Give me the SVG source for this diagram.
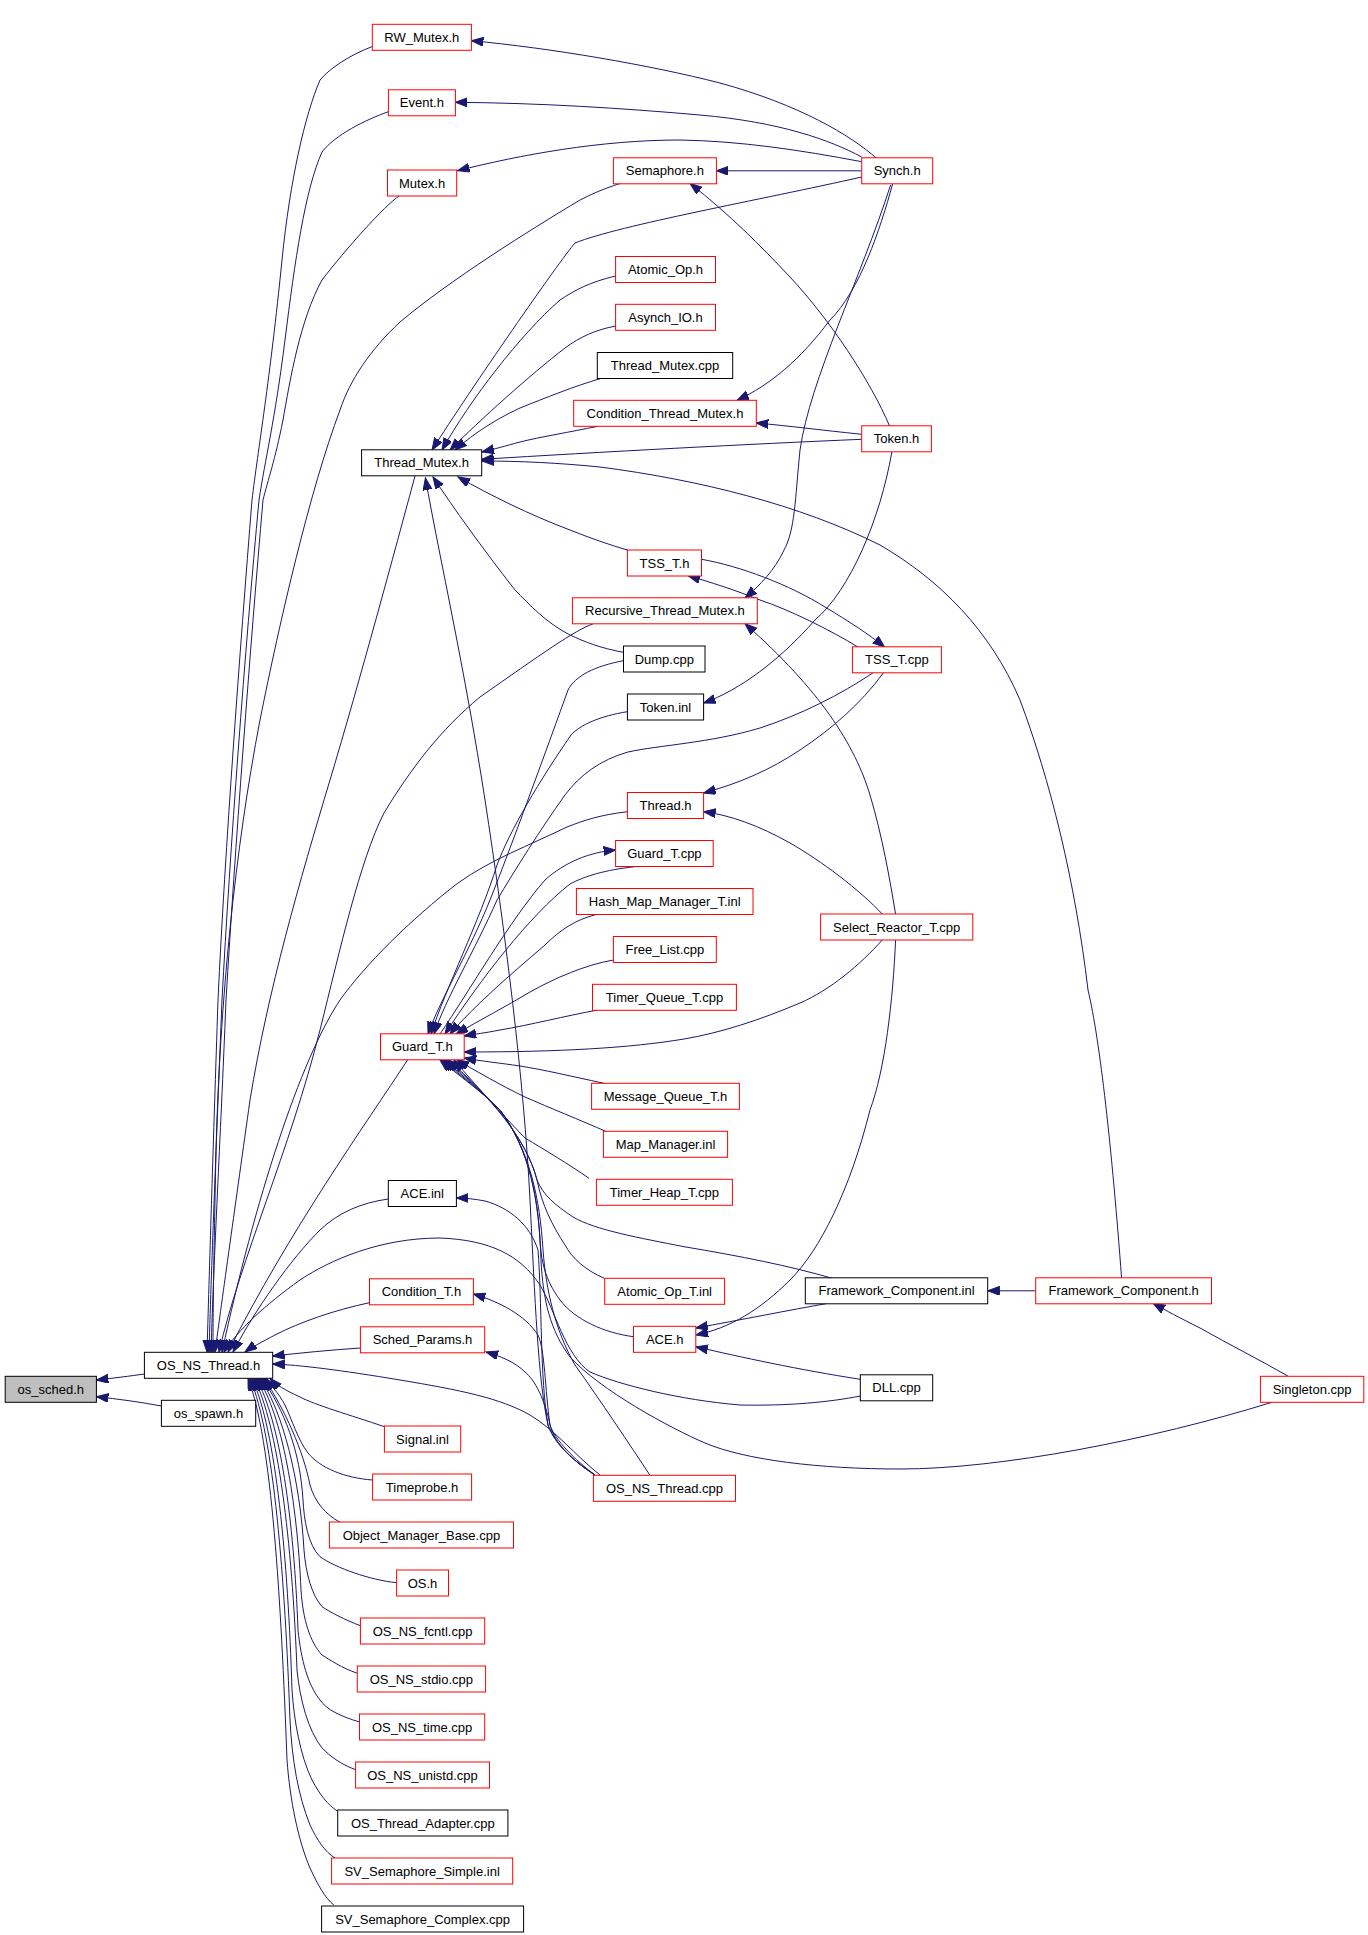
<svg xmlns="http://www.w3.org/2000/svg" width="1368" height="1935" viewBox="0 0 1368 1935">
<style>
rect{fill:#fff;stroke-width:1}
.r{stroke:#ff0000}
.k{stroke:#000}
.g{fill:#bfbfbf;stroke:#000}
text{font-family:"Liberation Sans",Arial,sans-serif;font-size:13px;text-anchor:middle;fill:#000}
#edges path{fill:none;stroke:#191970;stroke-width:1;marker-end:url(#a)}
</style>
<defs>
<marker id="a" markerUnits="userSpaceOnUse" markerWidth="13" markerHeight="10" refX="12" refY="4.5" orient="auto">
<path d="M0,0 L12,4.5 L0,9 z" fill="#191970" stroke="#191970" stroke-width="1"/>
</marker>
</defs>
<rect x="0" y="0" width="1368" height="1935" style="fill:#fff;stroke:none"/>
<g id="edges">
<!-- to os_sched.h -->
<path d="M144.4,1374 C130,1376 115,1378 96.4,1380"/>
<path d="M161.4,1406 C140,1402 118,1399 96.4,1396.7"/>
<!-- top group to OS_NS_Thread.h -->
<path d="M371.9,46.7 C350,55 330,68 320,80 C305,115 290,180 282,260 C270,380 258,450 252,500 C240,650 225,850 218,1000 C213,1150 210,1250 207,1352"/>
<path d="M388.4,111.7 C365,120 335,135 322,152 C305,190 295,260 285,340 C275,420 265,460 259,500 C245,650 230,850 222,1000 C216,1150 212,1250 209,1352"/>
<path d="M399.5,195.7 C385,205 345,250 322,280 C300,320 290,380 283,420 C275,460 268,480 263,500 C250,650 235,850 226,1000 C220,1150 214,1250 211,1352"/>
<path d="M620.5,183.3 C600,190 590,195 580,200 C530,230 450,280 400,322 C370,350 350,380 340,410 C310,490 280,620 260,720 C235,850 220,1000 216,1150 C214,1250 213,1300 213,1352"/>
<path d="M415,476 C395,550 360,680 330,780 C300,880 268,990 250,1100 C236,1200 222,1300 215,1352"/>
<path d="M593.4,623.7 C575,630 540,655 480,697 C440,730 410,770 384,813 C360,860 340,950 320,1030 C290,1150 240,1260 219,1352"/>
<path d="M627.4,811.7 C600,815 585,820 567,827 C530,845 490,860 458,883 C410,920 365,965 340,1000 C300,1060 255,1200 222,1352"/>
<path d="M408,1059.3 C365,1125 290,1230 228,1352"/>
<path d="M388.3,1199 C360,1203 338,1213 320,1230 C290,1260 255,1310 233,1352"/>
<path d="M860.3,1396 C830,1402 790,1406 740,1405 C680,1400 620,1385 590,1372 C565,1355 555,1310 540,1285 C520,1255 490,1240 440,1238 C380,1238 330,1260 300,1280 C265,1305 238,1330 224,1352"/>
<path d="M369.5,1302.7 C335,1310 300,1322 275,1335 C262,1342 252,1347 245,1352"/>
<path d="M360.4,1348 C330,1350 300,1353 272.7,1356"/>
<path d="M600,1475 C575,1455 555,1430 530,1415 C500,1398 460,1390 400,1380 C340,1370 300,1365 272.7,1364"/>
<!-- bottom group to OS_NS_Thread.h -->
<path d="M384.4,1426.7 C350,1415 315,1405 300,1397 C285,1390 276,1385 270,1378.3"/>
<path d="M372.6,1480 C345,1478 320,1468 308,1453 C298,1440 292,1420 285,1405 C278,1392 270,1385 266,1378.3"/>
<path d="M340,1522.3 C325,1514 315,1502 310,1485 C303,1450 285,1410 264,1378.3"/>
<path d="M396.6,1582.7 C370,1580 336,1568 320,1556.7 C308,1545 304,1520 303,1500 C300,1450 284,1410 262,1378.3"/>
<path d="M360.4,1625.7 C345,1620 330,1612 322,1606.7 C312,1595 306,1575 304,1550 C300,1480 283,1412 260,1378.3"/>
<path d="M357.3,1673.3 C342,1668 330,1660 322,1655 C310,1642 303,1620 301,1590 C297,1500 282,1415 258,1378.3"/>
<path d="M359.5,1722 C340,1716 327,1710 320,1700 C308,1685 301,1660 298,1630 C294,1520 280,1420 256,1378.3"/>
<path d="M355.6,1769.7 C340,1764 330,1756 322,1748 C308,1730 300,1700 297,1670 C292,1540 278,1425 254,1378.3"/>
<path d="M337.3,1811 C328,1805 320,1795 312,1780 C300,1755 294,1720 292,1690 C288,1560 276,1430 252,1378.3"/>
<path d="M335,1858 C325,1852 317,1840 310,1825 C298,1795 292,1760 290,1720 C285,1580 274,1435 250,1378.3"/>
<path d="M333.8,1905 C325,1898 318,1885 310,1868 C298,1840 290,1800 287,1760 C281,1600 272,1440 248,1378.3"/>
<!-- Synch.h -->
<path d="M876.6,158.3 C850,135 800,105 720,83 C650,65 550,48 471.4,40.7"/>
<path d="M861.7,157 C830,140 780,122 700,115 C620,108 540,103 455.4,102.3"/>
<path d="M861.7,161.7 C800,150 740,141 680,140 C600,140 520,155 457.6,170.7"/>
<path d="M861.7,170.8 L716.4,170.8"/>
<path d="M861.7,177 C760,200 620,225 575,243 C560,260 470,390 432,450"/>
<path d="M892.8,183.3 C880,230 860,290 830,320 C800,360 770,385 737,400.3"/>
<path d="M890.6,185 C860,280 810,380 800,450 C795,500 795,530 784,550 C775,570 760,585 745,598"/>
<!-- Token.h -->
<path d="M889.7,426.3 C870,380 830,320 790,277 C760,245 730,215 690,183.3"/>
<path d="M861.7,434.3 C820,430 790,426 756.3,423"/>
<path d="M861.7,439.3 C750,444 600,452 481.7,459.3"/>
<path d="M892,451.3 C880,520 850,590 815,620 C780,660 740,690 703.6,703"/>
<!-- into Thread_Mutex.h -->
<path d="M615.6,276 C590,282 575,290 560,300 C520,335 470,400 442,450"/>
<path d="M615.6,326 C595,330 580,337 565,348 C530,375 480,420 450,450"/>
<path d="M600,378.7 C575,386 545,398 520,408 C490,422 470,437 455,450"/>
<path d="M598,426.3 C570,432 540,437 520,442 C505,446 495,449 482,452"/>
<path d="M1121.6,1278.3 C1112,1150 1100,1040 1088,990 C1075,880 1050,780 1020,700 C990,630 940,580 880,545 C800,505 700,480 600,467 C560,463 520,461 482,461"/>
<path d="M628.3,550.3 C610,545 590,538 570,530 C530,515 490,495 458,477"/>
<path d="M623.5,652.3 C600,648 585,642 570,635 C545,622 530,605 515,590 C480,545 455,510 433,477"/>
<path d="M595,1475 C575,1462 555,1445 548,1425 C538,1380 535,1300 530,1200 C524,1080 505,930 485,800 C465,670 440,560 425.4,478"/>
<!-- TSS -->
<path d="M701.5,559.3 C740,566 790,585 825,607 C850,622 870,635 884.7,647.3"/>
<path d="M858.5,647.3 C830,630 790,610 760,600 C735,590 710,582 688,575.7"/>
<path d="M883.8,672.3 C860,705 830,730 800,750 C770,770 740,783 703.6,793"/>
<!-- Select_Reactor_T.cpp -->
<path d="M882.5,914.3 C860,890 820,860 790,843 C760,826 730,815 703.6,811.7"/>
<path d="M895.6,914.3 C890,880 882,835 870,795 C855,745 820,690 745,623.7"/>
<path d="M895.6,939.7 C893,1000 885,1070 870,1110 C850,1190 820,1250 790,1280 C760,1310 730,1328 696,1335"/>
<path d="M882.5,939.7 C860,965 830,990 800,1003 C760,1020 720,1033 684,1039 C630,1048 560,1052 464.2,1052"/>
<!-- into ACE.h / FC -->
<path d="M828,1303.3 C790,1310 740,1320 695.8,1328"/>
<path d="M860.3,1379.3 C800,1370 740,1357 695.8,1346.7"/>
<path d="M1035.7,1290.8 L987.7,1290.8"/>
<path d="M1288.3,1376.3 C1260,1360 1230,1345 1200,1328 C1180,1318 1165,1310 1153,1303.3"/>
<!-- into Guard_T.h from above -->
<path d="M623.5,660.7 C595,666 575,676 568,690 C550,740 510,850 490,900 C470,950 440,1000 428,1034"/>
<path d="M627.4,711.7 C600,716 580,725 571,735 C540,780 510,830 497,865 C480,920 445,990 431,1034"/>
<path d="M873.8,672.3 C840,695 800,715 760,728 C710,743 660,745 628,752 C600,760 580,775 565,795 C540,830 515,870 497,900 C475,950 445,1000 434,1034"/>
<path d="M440,1034 C470,990 510,920 545,880 C565,862 590,852 615.6,850"/>
<path d="M634.8,866.7 C605,870 585,876 570,884 C530,915 480,980 445,1034"/>
<path d="M595.5,914.7 C575,920 560,930 545,945 C510,975 475,1005 450,1034"/>
<path d="M613.4,960 C585,965 555,978 530,992 C505,1007 480,1020 456,1034"/>
<path d="M597.7,1010 C565,1016 530,1025 500,1030 C485,1033 475,1034 464.2,1036"/>
<!-- into Guard_T.h from below -->
<path d="M604,1083.3 C570,1076 545,1070 520,1066 C500,1063 480,1061 464.2,1058"/>
<path d="M606.5,1131.7 C580,1120 550,1108 525,1097 C500,1085 478,1072 457,1060"/>
<path d="M589,1178.3 C570,1165 545,1150 525,1138 C500,1112 478,1088 454,1060"/>
<path d="M832.3,1278.3 C790,1266 740,1256 684,1246.7 C640,1238 595,1230 573,1217 C555,1205 543,1195 537,1180 C527,1140 490,1095 448,1060"/>
<path d="M604.3,1278.3 C585,1270 572,1258 565,1245 C552,1225 542,1205 537,1180 C527,1140 490,1095 446,1060"/>
<path d="M633.5,1336.7 C605,1333 575,1320 560,1300 C545,1280 541,1260 540,1240 C538,1200 530,1150 500,1110 C480,1090 462,1075 444,1060"/>
<path d="M1272,1402.3 C1150,1440 1000,1469 900,1469 C820,1469 745,1460 705,1443 C670,1428 600,1390 570,1357 C550,1330 543,1300 541,1260 C539,1200 530,1150 500,1110 C480,1090 460,1075 442,1060"/>
<path d="M650,1475.3 C630,1445 600,1400 575,1365 C555,1330 546,1290 543,1250 C540,1200 530,1150 500,1110 C480,1090 458,1075 440,1060"/>
<!-- OS_NS_Thread.cpp to ACE.inl, Condition_T.h, Sched_Params.h -->
<path d="M595,1475 C575,1462 555,1445 548,1425 C540,1380 542,1300 538,1250 C530,1225 510,1208 485,1201 C475,1199 465,1198 456.4,1198"/>
<path d="M595,1475 C575,1462 555,1445 550,1425 C545,1390 545,1350 538,1335 C525,1315 500,1302 473.4,1294"/>
<path d="M595,1475 C575,1460 555,1440 550,1425 C545,1400 535,1380 525,1372 C515,1362 500,1356 486,1352"/>
</g>
<g id="n_os_sched"><rect class="g" x="5.2" y="1376.3" width="91.2" height="26"/><text x="50.8" y="1393.8">os_sched.h</text></g>
<g id="n_os_spawn"><rect class="k" x="161.4" y="1400.3" width="94.3" height="26"/><text x="208.5" y="1417.8">os_spawn.h</text></g>
<g id="n_OS_NS_Thread_h"><rect class="k" x="144.4" y="1352.3" width="128.3" height="26"/><text x="208.5" y="1369.8">OS_NS_Thread.h</text></g>
<g id="n_RW_Mutex"><rect class="r" x="372.3" y="24.3" width="99.1" height="26"/><text x="421.8" y="41.8">RW_Mutex.h</text></g>
<g id="n_Event"><rect class="r" x="388.4" y="89.8" width="67" height="26"/><text x="421.9" y="107.3">Event.h</text></g>
<g id="n_Mutex"><rect class="r" x="387.5" y="170" width="69.2" height="26"/><text x="422.1" y="187.5">Mutex.h</text></g>
<g id="n_Thread_Mutex_h"><rect class="k" x="361.6" y="449.8" width="120.1" height="26"/><text x="421.6" y="467.3">Thread_Mutex.h</text></g>
<g id="n_Guard_T_h"><rect class="r" x="380.5" y="1033.8" width="83.7" height="26"/><text x="422.3" y="1051.3">Guard_T.h</text></g>
<g id="n_ACE_inl"><rect class="k" x="388.3" y="1180.5" width="68.1" height="26"/><text x="422.3" y="1198">ACE.inl</text></g>
<g id="n_Condition_T"><rect class="r" x="369.5" y="1278.8" width="103.9" height="26"/><text x="421.4" y="1296.3">Condition_T.h</text></g>
<g id="n_Sched_Params"><rect class="r" x="360.4" y="1326.8" width="124.3" height="26"/><text x="422.5" y="1344.3">Sched_Params.h</text></g>
<g id="n_Signal"><rect class="r" x="384.4" y="1426" width="76.3" height="26"/><text x="422.5" y="1443.5">Signal.inl</text></g>
<g id="n_Timeprobe"><rect class="r" x="372.6" y="1474" width="99" height="26"/><text x="422.1" y="1491.5">Timeprobe.h</text></g>
<g id="n_Object_Manager_Base"><rect class="r" x="329.4" y="1522" width="184.1" height="26"/><text x="421.4" y="1539.5">Object_Manager_Base.cpp</text></g>
<g id="n_OS_h"><rect class="r" x="396.6" y="1570" width="51.9" height="26"/><text x="422.5" y="1587.5">OS.h</text></g>
<g id="n_OS_NS_fcntl"><rect class="r" x="360.4" y="1618" width="124.3" height="26"/><text x="422.5" y="1635.5">OS_NS_fcntl.cpp</text></g>
<g id="n_OS_NS_stdio"><rect class="r" x="357.3" y="1666" width="128.3" height="26"/><text x="421.4" y="1683.5">OS_NS_stdio.cpp</text></g>
<g id="n_OS_NS_time"><rect class="r" x="359.5" y="1714" width="125.2" height="26"/><text x="422.1" y="1731.5">OS_NS_time.cpp</text></g>
<g id="n_OS_NS_unistd"><rect class="r" x="355.6" y="1762" width="133.9" height="26"/><text x="422.5" y="1779.5">OS_NS_unistd.cpp</text></g>
<g id="n_OS_Thread_Adapter"><rect class="k" x="337.7" y="1810" width="170.2" height="26"/><text x="422.8" y="1827.5">OS_Thread_Adapter.cpp</text></g>
<g id="n_SV_Semaphore_Simple"><rect class="r" x="331.6" y="1858" width="181.1" height="26"/><text x="422.1" y="1875.5">SV_Semaphore_Simple.inl</text></g>
<g id="n_SV_Semaphore_Complex"><rect class="k" x="321.6" y="1906" width="202" height="26"/><text x="422.6" y="1923.5">SV_Semaphore_Complex.cpp</text></g>
<g id="n_Semaphore"><rect class="r" x="613.4" y="157.8" width="103" height="26"/><text x="664.9" y="175.3">Semaphore.h</text></g>
<g id="n_Atomic_Op_h"><rect class="r" x="615.6" y="256.5" width="99.9" height="26"/><text x="665.5" y="274">Atomic_Op.h</text></g>
<g id="n_Asynch_IO"><rect class="r" x="615.6" y="304.3" width="99.9" height="26"/><text x="665.5" y="321.8">Asynch_IO.h</text></g>
<g id="n_Thread_Mutex_cpp"><rect class="k" x="597.3" y="352.5" width="135.4" height="26"/><text x="665" y="370">Thread_Mutex.cpp</text></g>
<g id="n_Condition_Thread_Mutex"><rect class="r" x="573.7" y="400.3" width="182.6" height="26"/><text x="665" y="417.8">Condition_Thread_Mutex.h</text></g>
<g id="n_TSS_T_h"><rect class="r" x="627.4" y="550" width="74.1" height="26"/><text x="664.5" y="567.5">TSS_T.h</text></g>
<g id="n_Recursive_Thread_Mutex"><rect class="r" x="572.4" y="597.8" width="184.9" height="26"/><text x="664.9" y="615.3">Recursive_Thread_Mutex.h</text></g>
<g id="n_Dump"><rect class="k" x="623.5" y="646" width="81.5" height="26"/><text x="664.3" y="663.5">Dump.cpp</text></g>
<g id="n_Token_inl"><rect class="k" x="627.4" y="694" width="76.2" height="26"/><text x="665.5" y="711.5">Token.inl</text></g>
<g id="n_Thread_h"><rect class="r" x="627.4" y="792.5" width="76.2" height="26"/><text x="665.5" y="810">Thread.h</text></g>
<g id="n_Guard_T_cpp"><rect class="r" x="615.6" y="840.5" width="97.6" height="26"/><text x="664.4" y="858">Guard_T.cpp</text></g>
<g id="n_Hash_Map_Manager_T"><rect class="r" x="576.4" y="888.5" width="176.6" height="26"/><text x="664.7" y="906">Hash_Map_Manager_T.inl</text></g>
<g id="n_Free_List"><rect class="r" x="613.4" y="936.5" width="102.9" height="26"/><text x="664.9" y="954">Free_List.cpp</text></g>
<g id="n_Timer_Queue_T"><rect class="r" x="592.5" y="984.3" width="143.9" height="26"/><text x="664.5" y="1001.8">Timer_Queue_T.cpp</text></g>
<g id="n_Message_Queue_T"><rect class="r" x="591.6" y="1083.3" width="147.8" height="26"/><text x="665.5" y="1100.8">Message_Queue_T.h</text></g>
<g id="n_Map_Manager"><rect class="r" x="603.4" y="1131.3" width="124.2" height="26"/><text x="665.5" y="1148.8">Map_Manager.inl</text></g>
<g id="n_Timer_Heap_T"><rect class="r" x="596.4" y="1179.3" width="136" height="26"/><text x="664.4" y="1196.8">Timer_Heap_T.cpp</text></g>
<g id="n_Atomic_Op_T"><rect class="r" x="604.7" y="1278.3" width="119.9" height="26"/><text x="664.7" y="1295.8">Atomic_Op_T.inl</text></g>
<g id="n_ACE_h"><rect class="r" x="633.5" y="1326.3" width="62.3" height="26"/><text x="664.7" y="1343.8">ACE.h</text></g>
<g id="n_OS_NS_Thread_cpp"><rect class="r" x="593.4" y="1475.3" width="142.1" height="26"/><text x="664.5" y="1492.8">OS_NS_Thread.cpp</text></g>
<g id="n_Synch"><rect class="r" x="861.7" y="157.8" width="71" height="26"/><text x="897.2" y="175.3">Synch.h</text></g>
<g id="n_Token_h"><rect class="r" x="861.7" y="425.8" width="69.7" height="26"/><text x="896.6" y="443.3">Token.h</text></g>
<g id="n_TSS_T_cpp"><rect class="r" x="852.4" y="646.8" width="89" height="26"/><text x="896.9" y="664.3">TSS_T.cpp</text></g>
<g id="n_Select_Reactor_T"><rect class="r" x="820.6" y="914" width="152.2" height="26"/><text x="896.7" y="931.5">Select_Reactor_T.cpp</text></g>
<g id="n_Framework_Component_inl"><rect class="k" x="805.3" y="1277.8" width="182.4" height="26"/><text x="896.5" y="1295.3">Framework_Component.inl</text></g>
<g id="n_DLL"><rect class="k" x="860.3" y="1374.8" width="72.4" height="26"/><text x="896.5" y="1392.3">DLL.cpp</text></g>
<g id="n_Framework_Component_h"><rect class="r" x="1035.7" y="1277.8" width="175.8" height="26"/><text x="1123.6" y="1295.3">Framework_Component.h</text></g>
<g id="n_Singleton"><rect class="r" x="1260.4" y="1376.3" width="103.4" height="26"/><text x="1312.1" y="1393.8">Singleton.cpp</text></g>
</svg>
